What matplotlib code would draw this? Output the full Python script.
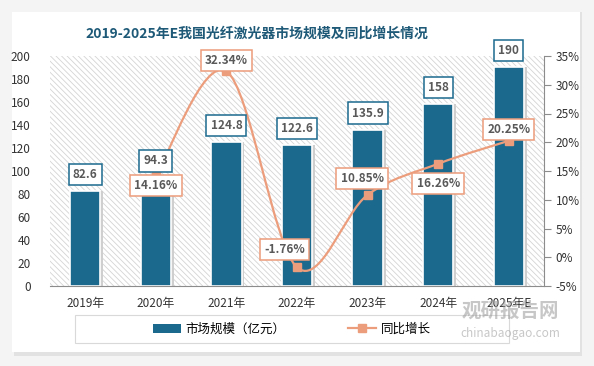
import matplotlib.pyplot as plt
from matplotlib.patches import Rectangle, PathPatch
from matplotlib.path import Path
from matplotlib.lines import Line2D
import numpy as np

plt.rcParams['font.family'] = ['Noto Sans CJK SC', 'DejaVu Sans']
plt.rcParams['hatch.color'] = '#d4d4d4'
plt.rcParams['hatch.linewidth'] = 0.6

# data
years = ['2019年', '2020年', '2021年', '2022年', '2023年', '2024年', '2025年E']
market = [82.6, 94.3, 124.8, 122.6, 135.9, 158, 190]
growth = [None, 14.16, 32.34, -1.76, 10.85, 16.26, 20.25]
market_labels = ['82.6', '94.3', '124.8', '122.6', '135.9', '158', '190']
growth_labels = [None, '14.16%', '32.34%', '-1.76%', '10.85%', '16.26%', '20.25%']
# label offsets in points (dx, dy)
growth_offsets = [None, (0, -7), (0, 8), (-9, 13), (-4, 12), (0, -14), (0, 8)]

bar_color = '#1b6a8e'
line_color = '#ec9d7c'
text_gray = '#595959'

fig = plt.figure(figsize=(5.94, 3.66), dpi=100)
fig.patch.set_facecolor('#f4f4f4')
# card with shadow
fig.add_artist(Rectangle((14 / 594, 1 - 356 / 366), 568 / 594, 344 / 366,
                         transform=fig.transFigure, facecolor='#e2e2e2', edgecolor='none', zorder=-10))
fig.add_artist(Rectangle((12 / 594, 1 - 352 / 366), 568 / 594, 340 / 366,
                         transform=fig.transFigure, facecolor='white', edgecolor='none', zorder=-9))

ax = fig.add_axes([50 / 594, 80 / 366, 494 / 594, 230 / 366])
ax.set_facecolor('none')
x = np.arange(len(years))
ax.set_xlim(-0.5, len(years) - 0.5)
ax.set_ylim(0, 200)
ax.add_patch(Rectangle((-0.5, 0), len(years), 200, facecolor='white', edgecolor='#d4d4d4', linewidth=0,
                       hatch='\\\\\\\\\\\\', zorder=0))

# bar shadows
ax.bar(x + 0.04, market, width=0.43, color='#cfcfcf', edgecolor='none', zorder=1)
ax.bar(x, market, width=0.43, color=bar_color, edgecolor='white', linewidth=1.2, zorder=2)

ax.set_yticks(range(0, 201, 20))
ax.tick_params(axis='y', length=0, pad=14, labelsize=8.5, labelcolor='#333333')
ax.set_xticks(x)
ax.set_xticklabels(years)
ax.tick_params(axis='x', length=0, pad=8, labelsize=8.5, labelcolor='#333333')
for s in ['top', 'left', 'right']:
    ax.spines[s].set_visible(False)
ax.spines['bottom'].set_color('#8c8c8c')
ax.spines['bottom'].set_zorder(3)

ax2 = ax.twinx()
ax2.set_ylim(-5, 35)
ax2.set_yticks(range(-5, 36, 5))
ax2.set_yticklabels([f'{v}%' for v in range(-5, 36, 5)])
ax2.tick_params(axis='y', length=5, color='#8c8c8c', labelsize=8.5, labelcolor='#333333')
for s in ['top', 'left', 'bottom']:
    ax2.spines[s].set_visible(False)
ax2.spines['right'].set_color('#8c8c8c')

# bar value labels (drawn on ax2 so they sit above the line)
for xi, v, lab in zip(x, market, market_labels):
    ax2.annotate(lab, (xi, v), xycoords=ax.transData, xytext=(0, 12), textcoords='offset points',
                 ha='center', va='center', fontsize=8.5, fontweight='bold', color=text_gray, zorder=6,
                 bbox=dict(boxstyle='square,pad=0.35', facecolor='white', edgecolor=bar_color, linewidth=1.1))

# smoothed line (Excel style bezier)
px = [xi for xi, g in zip(x, growth) if g is not None]
py = [g for g in growth if g is not None]
pts = np.column_stack([px, py]).astype(float)
verts = [tuple(pts[0])]
codes = [Path.MOVETO]
n = len(pts)
for i in range(n - 1):
    p0 = pts[i - 1] if i > 0 else pts[i]
    p1 = pts[i]
    p2 = pts[i + 1]
    p3 = pts[i + 2] if i + 2 < n else pts[i + 1]
    c1 = p1 + (p2 - p0) / 6
    c2 = p2 - (p3 - p1) / 6
    verts += [tuple(c1), tuple(c2), tuple(p2)]
    codes += [Path.CURVE4] * 3
ax2.add_patch(PathPatch(Path(verts, codes), facecolor='none', edgecolor=line_color, linewidth=1.6, zorder=4))
ax2.plot(px, py, linestyle='none', marker='s', markersize=6, color=line_color, zorder=5)
for xi, g, lab, off in zip(x, growth, growth_labels, growth_offsets):
    if g is None:
        continue
    ax2.annotate(lab, (xi, g), xytext=off, textcoords='offset points', ha='center', va='center',
                 fontsize=8.5, fontweight='bold', color=text_gray, zorder=7,
                 bbox=dict(boxstyle='square,pad=0.35', facecolor='white', edgecolor=line_color, linewidth=1.1))

fig.text(257 / 594, 1 - 34 / 366, '2019-2025年E我国光纤激光器市场规模及同比增长情况', ha='center', va='center',
         fontsize=10, fontweight='bold', color='#1e5a78')

# legend box
fig.add_artist(Rectangle((75 / 594, 1 - 343 / 366), 434 / 594, 28 / 366, transform=fig.transFigure,
                         facecolor='white', edgecolor='#d9d9d9', linewidth=0.8, zorder=-1))
handles = [Rectangle((0, 0), 1, 1, facecolor=bar_color),
           Line2D([], [], color=line_color, marker='s', markersize=6, linewidth=1.6)]
fig.legend(handles, ['市场规模（亿元）', '同比增长'], loc='center', bbox_to_anchor=(292 / 594, 1 - 329 / 366),
           ncol=2, frameon=False, fontsize=9, columnspacing=5, handlelength=2.2, handletextpad=0.4)

# watermark
fig.text(510 / 594, 1 - 311 / 366, '观研报告网', ha='center', va='center', fontsize=14, fontweight='bold',
         color='#9a9a9a', alpha=0.55, zorder=10)
fig.text(510 / 594, 1 - 334 / 366, 'chinabaogao.com', ha='center', va='center', fontsize=8.5,
         color='#9a9a9a', alpha=0.55, zorder=10)

fig.savefig('out.png', dpi=100, facecolor=fig.get_facecolor())
